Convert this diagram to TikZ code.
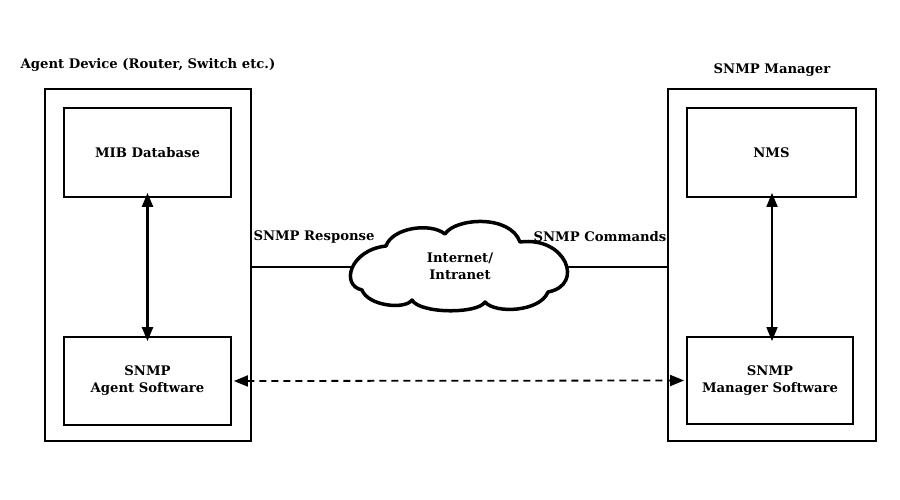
\documentclass[tikz,border=0pt]{standalone}
\usepackage{fontspec}
\setmainfont{DejaVu Serif}
\usetikzlibrary{arrows.meta}
\begin{document}
\begin{tikzpicture}[x=1pt,y=-1pt,
  outerbox/.style={draw,line width=2pt},
  innerbox/.style={draw,line width=1.8pt},
  lbl/.style={font=\fontsize{13.2}{17}\selectfont\bfseries,align=center},
  cloudline/.style={line width=3.5pt,line join=round},
  btip/.style={{Triangle[width=11pt,length=14pt]}-{Triangle[width=11pt,length=14pt]}}]
\useasboundingbox (0,0) rectangle (900,500);
% outer boxes
\draw[outerbox] (45,89) rectangle (251,441);
\draw[outerbox] (668,89) rectangle (876,441);
\coordinate (lo) at (251,267);
\coordinate (ro) at (668,267);
% inner boxes
\node[innerbox,lbl,minimum width=167pt,minimum height=89pt] (mib) at (147.5,152.5) {MIB Database};
\node[innerbox,lbl,minimum width=167pt,minimum height=88pt] (agent) at (147.5,381) {SNMP\\Agent Software};
\node[innerbox,lbl,minimum width=169pt,minimum height=89pt] (nms) at (771.5,152.5) {NMS};
\node[innerbox,lbl,minimum width=166pt,minimum height=87pt] (mgr) at (770,380.5) {SNMP\\Manager Software};
% titles
\node[lbl] (t1) at (148,65) {Agent Device (Router, Switch etc.)};
\node[lbl] (t2) at (772,70) {SNMP Manager};
% cloud
\draw[cloudline] (362,290) .. controls (340,285) and (350,250) .. (386,246)
  .. controls (392,228) and (430,222) .. (445,234)
  .. controls (455,218) and (510,214) .. (520,242)
  .. controls (566,236) and (585,285) .. (548,292)
  .. controls (540,312) and (495,314) .. (485,302)
  .. controls (478,314) and (420,314) .. (412,300)
  .. controls (405,310) and (368,306) .. (362,290) -- cycle;
\node[lbl] (cl) at (460,266) {Internet/\\Intranet};
\coordinate (clw) at (353,267);
\coordinate (cle) at (565,267);
\draw[line width=1.5pt] (lo) -- (clw);
\draw[line width=1.5pt] (cle) -- (ro);
\node[lbl] (r) at (314,237) {SNMP Response};
\node[lbl] (c) at (600,237) {SNMP Commands};
% arrows
\draw[btip,line width=2.4pt] ([yshift=5pt]mib.south) -- ([yshift=-5pt]agent.north);
\draw[btip,line width=1.8pt] ([yshift=5pt]nms.south -| 772,0) -- ([yshift=-5pt]mgr.north -| 772,0);
\draw[btip,line width=1.8pt,dash pattern=on 7pt off 5pt] ([xshift=2pt]agent.east) -- ([xshift=-2pt]mgr.west);
\end{tikzpicture}
\end{document}
